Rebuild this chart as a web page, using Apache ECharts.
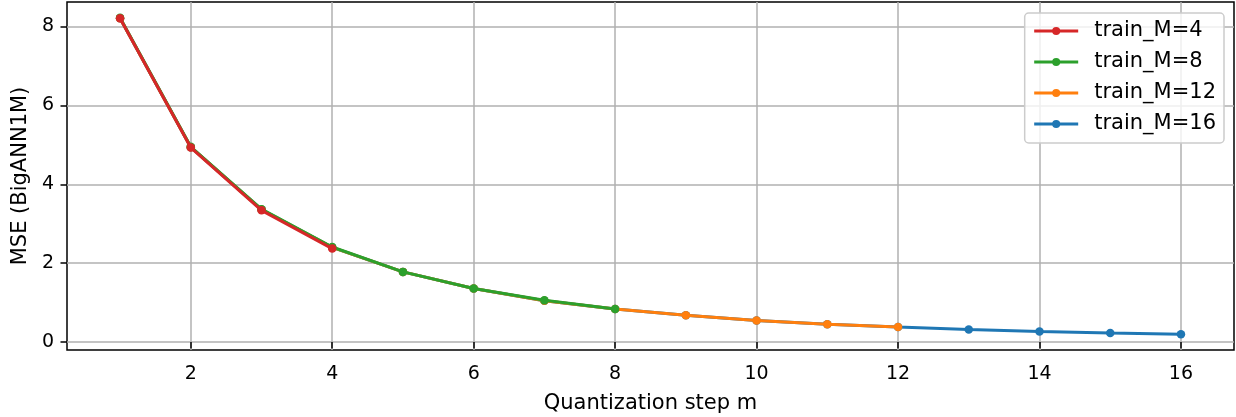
<!DOCTYPE html>
<html>
<head>
<meta charset="utf-8">
<script src="https://cdn.jsdelivr.net/npm/echarts@6/dist/echarts.min.js"></script>
<style>
html,body{margin:0;padding:0;background:#fff;}
#chart{width:1236px;height:417px;}
</style>
</head>
<body>
<div id="chart"></div>
<script>
const stepsM = [1, 2, 3, 4, 5, 6, 7, 8, 9, 10, 11, 12, 13, 14, 15, 16];
const mseTrainM4  = [8.21, 4.93, 3.34, 2.37];
const mseTrainM8  = [8.22, 4.95, 3.37, 2.41, 1.78, 1.36, 1.06, 0.84];
const mseTrainM12 = [8.21, 4.94, 3.36, 2.40, 1.78, 1.36, 1.05, 0.84, 0.68, 0.55, 0.45, 0.38];
const mseTrainM16 = [8.21, 4.94, 3.36, 2.40, 1.78, 1.36, 1.05, 0.84, 0.68, 0.55, 0.45, 0.38, 0.32, 0.27, 0.23, 0.20];
const xTicks = [2, 4, 6, 8, 10, 12, 14, 16];
const yTicks = [0, 2, 4, 6, 8];
const seriesNames = ['train_M=4', 'train_M=8', 'train_M=12', 'train_M=16'];
const seriesColors = ['#d62728', '#2ca02c', '#ff7f0e', '#1f77b4'];
const seriesValues = [mseTrainM4, mseTrainM8, mseTrainM12, mseTrainM16];

const FONT = 'DejaVu Sans';
const FS_TICK = 19;
const FS_LABEL = 21;

function makeSeries(i, z) {
  return {
    name: seriesNames[i],
    type: 'line',
    data: seriesValues[i].map((v, k) => [stepsM[k], v]),
    color: seriesColors[i],
    symbol: 'circle',
    symbolSize: 8.5,
    showSymbol: true,
    lineStyle: { width: 3, color: seriesColors[i] },
    itemStyle: { color: seriesColors[i] },
    z: z,
    animation: false
  };
}

const chart = echarts.init(document.getElementById('chart'), null, { renderer: 'canvas' });
chart.setOption({
  animation: false,
  backgroundColor: '#fff',
  grid: {
    left: 67, right: 2, top: 2, bottom: 67,
    outerBoundsMode: 'none', containLabel: false,
    show: true, borderColor: '#000', borderWidth: 1.5, backgroundColor: 'transparent'
  },
  legend: {
    data: seriesNames,
    orient: 'vertical',
    right: 12, top: 13,
    padding: [7, 8, 8, 8],
    itemWidth: 44, itemHeight: 10, itemGap: 9,
    lineStyle: { width: 3 },
    backgroundColor: 'rgba(255,255,255,0.8)',
    borderColor: '#cccccc', borderWidth: 1.5, borderRadius: 4,
    textStyle: { fontFamily: FONT, fontSize: FS_LABEL, color: '#000', lineHeight: 22, padding: [0, 0, 0, 11] }
  },
  xAxis: {
    type: 'value', min: 0.25, max: 16.75,
    name: 'Quantization step m', nameLocation: 'middle', nameGap: 43,
    nameTextStyle: { fontFamily: FONT, fontSize: FS_LABEL, color: '#000' },
    axisLine: { show: false },
    axisTick: { show: true, inside: false, length: 6.5, lineStyle: { color: '#000', width: 1.5 }, customValues: xTicks },
    axisLabel: { fontFamily: FONT, fontSize: FS_TICK, color: '#000', margin: 15, customValues: xTicks },
    splitLine: { show: true, lineStyle: { color: '#b0b0b0', width: 1.5 } }
  },
  yAxis: {
    type: 'value', min: -0.2, max: 8.62,
    name: 'MSE (BigANN1M)', nameLocation: 'middle', nameGap: 35, nameRotate: 90,
    nameTextStyle: { fontFamily: FONT, fontSize: FS_LABEL, color: '#000' },
    axisLine: { show: false },
    axisTick: { show: true, inside: false, length: 6.5, lineStyle: { color: '#000', width: 1.5 }, customValues: yTicks },
    axisLabel: { fontFamily: FONT, fontSize: FS_TICK, color: '#000', margin: 13, customValues: yTicks },
    splitLine: { show: true, lineStyle: { color: '#b0b0b0', width: 1.5 } }
  },
  series: [
    makeSeries(3, 2),
    makeSeries(2, 3),
    makeSeries(1, 4),
    makeSeries(0, 5)
  ]
});
</script>
</body>
</html>
